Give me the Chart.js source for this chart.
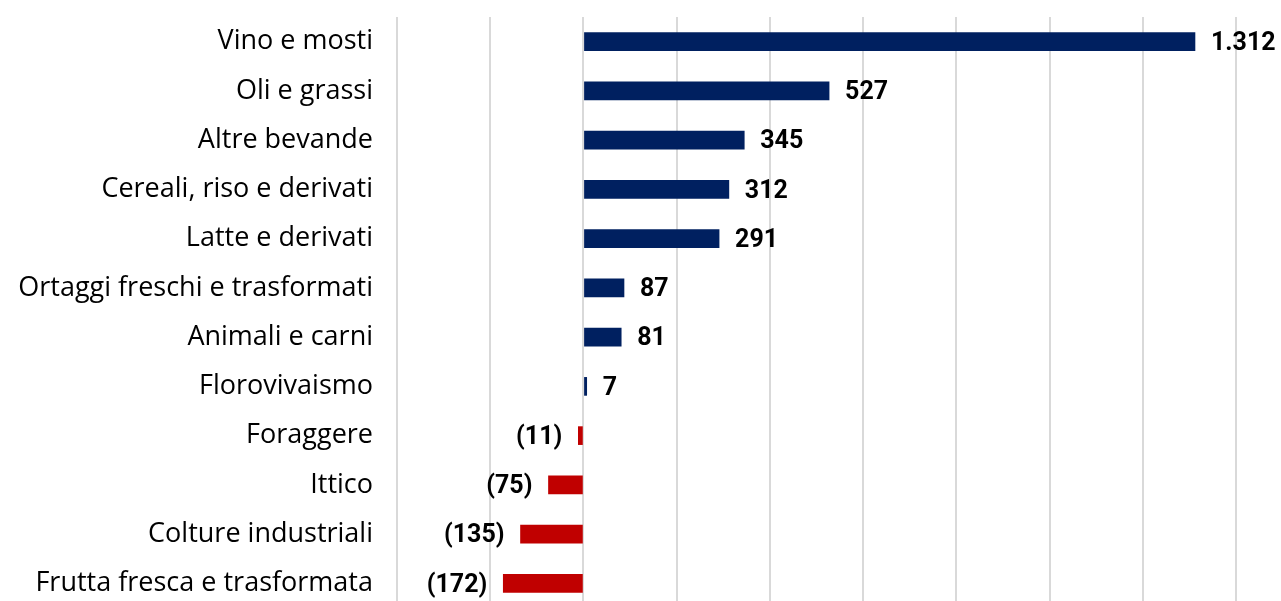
<!DOCTYPE html>
<html lang="it">
  <head>
    <meta charset="UTF-8" />
    <title>Saldo commerciale</title>
    <script src="https://cdn.jsdelivr.net/npm/chart.js"></script>
    <style>
      html, body { margin: 0; padding: 0; background: #fff; overflow: hidden; }
      #box { width: 1281px; height: 608px; position: relative; }
    </style>
  </head>
  <body>
    <div id="box"><canvas id="grafico"></canvas></div>

    <script>
      const categorie = [
        "Vino e mosti",
        "Oli e grassi",
        "Altre bevande",
        "Cereali, riso e derivati",
        "Latte e derivati",
        "Ortaggi freschi e trasformati",
        "Animali e carni",
        "Florovivaismo",
        "Foraggere",
        "Ittico",
        "Colture industriali",
        "Frutta fresca e trasformata",
      ];
      const valori = [1312, 527, 345, 312, 291, 87, 81, 7, -11, -75, -135, -172];
      const blu = "#002060";
      const rosso = "#c00000";

      function formatta(v) {
        const s = Math.abs(v).toLocaleString("it-IT");
        return v < 0 ? "(" + s + ")" : s;
      }

      // etichette con i valori a fianco delle barre
      const etichette = {
        id: "etichette",
        afterDatasetsDraw(chart) {
          const ctx = chart.ctx;
          const meta = chart.getDatasetMeta(0);
          ctx.save();
          ctx.font = "bold 25px Roboto";
          ctx.fillStyle = "#000";
          ctx.textBaseline = "middle";
          meta.data.forEach((bar, i) => {
            const v = valori[i];
            if (v >= 0) {
              ctx.textAlign = "left";
              ctx.fillText(formatta(v), bar.x + 16, bar.y + 2);
            } else {
              ctx.textAlign = "right";
              ctx.fillText(formatta(v), bar.x - 16, bar.y + 2);
            }
          });
          ctx.restore();
        },
      };

      new Chart(grafico, {
        type: "bar",
        data: {
          labels: categorie,
          datasets: [
            {
              data: valori,
              backgroundColor: valori.map((v) => (v < 0 ? rosso : blu)),
              barThickness: 18,
              borderWidth: 0,
            },
          ],
        },
        options: {
          indexAxis: "y",
          responsive: true,
          maintainAspectRatio: false,
          animation: false,
          layout: { padding: { top: 17, right: 45, left: 0, bottom: 0 } },
          plugins: {
            legend: { display: false },
            tooltip: { enabled: false },
          },
          scales: {
            x: {
              min: -400,
              max: 1400,
              ticks: { stepSize: 200, display: false },
              grid: { color: "#d9d9d9", lineWidth: 2, drawTicks: false },
              border: { display: false },
              afterFit(scale) {
                scale.height = 0;
                scale.paddingLeft = 0;
                scale.paddingRight = 0;
              },
            },
            y: {
              afterFit(scale) {
                scale.width = 397;
                scale.paddingTop = 0;
                scale.paddingBottom = 0;
              },
              ticks: {
                color: "#000",
                font: { family: "Open Sans", size: 27 },
                padding: 24,
              },
              grid: { display: false, drawTicks: false },
              border: { display: false },
            },
          },
        },
        plugins: [etichette],
      });
    </script>
  </body>
</html>
